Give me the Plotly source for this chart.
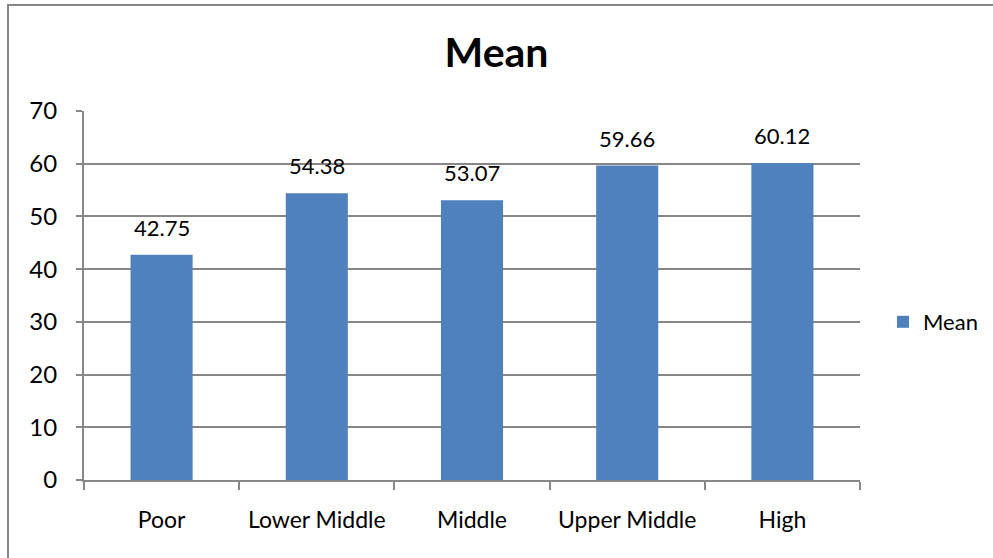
import plotly.graph_objects as go

categories = ["Poor", "Lower Middle", "Middle", "Upper Middle", "High"]
mean_values = [42.75, 54.38, 53.07, 59.66, 60.12]
y_ticks = [0, 10, 20, 30, 40, 50, 60, 70]

W, H = 993, 558
ML, MR, MT, MB = 84, 133, 111, 78
PW, PH = W - ML - MR, H - MT - MB

FONT = "Lato"
GRID = "#878787"

fig = go.Figure(
    go.Bar(
        x=categories,
        y=mean_values,
        name="Mean",
        marker=dict(color="#4F81BD", line=dict(width=0)),
        width=0.4,
        cliponaxis=False,
    )
)

# value labels above each bar
for cat, val in zip(categories, mean_values):
    fig.add_annotation(
        x=cat, y=val, text=f"{val:.2f}", showarrow=False,
        yanchor="bottom", yshift=12,
        font=dict(family=FONT, size=22, color="#000000"),
    )

def px_to_paper_x(px):
    return (px - ML) / PW

def px_to_paper_y(py):
    return (H - MB - py) / PH

# outer chart frame
fig.add_shape(
    type="rect", xref="paper", yref="paper",
    x0=px_to_paper_x(8), x1=px_to_paper_x(W + 10),
    y0=px_to_paper_y(H + 10), y1=px_to_paper_y(5),
    line=dict(color=GRID, width=2), fillcolor="rgba(0,0,0,0)", layer="below",
)

fig.update_layout(
    width=W, height=H,
    margin=dict(l=ML, r=MR, t=MT, b=MB, autoexpand=False),
    paper_bgcolor="white", plot_bgcolor="white",
    font=dict(family=FONT, color="#000000"),
    title=dict(text="<b>Mean</b>", x=0.5, xref="container", y=1 - 53 / H, yanchor="middle",
               font=dict(family=FONT, size=41, color="#000000")),
    showlegend=True,
    legend=dict(x=px_to_paper_x(883), y=px_to_paper_y(322), xanchor="left", yanchor="middle",
                font=dict(family=FONT, size=22), itemwidth=30, bgcolor="rgba(0,0,0,0)"),
    bargap=0.6,
    xaxis=dict(
        type="category", showline=True, linecolor=GRID, linewidth=2,
        ticks="outside", tickson="boundaries", ticklen=8, tickcolor=GRID, tickwidth=2,
        tickfont=dict(family=FONT, size=23), ticklabelstandoff=18,
        showgrid=False, zeroline=False,
    ),
    yaxis=dict(
        range=[0, 70], tickvals=y_ticks, showline=True, linecolor=GRID, linewidth=2,
        ticks="outside", ticklen=6, tickcolor=GRID, tickwidth=2,
        tickfont=dict(family=FONT, size=24), ticklabelstandoff=14,
        showgrid=True, gridcolor=GRID, gridwidth=2, zeroline=False,
    ),
)

fig.write_html("out.html")
